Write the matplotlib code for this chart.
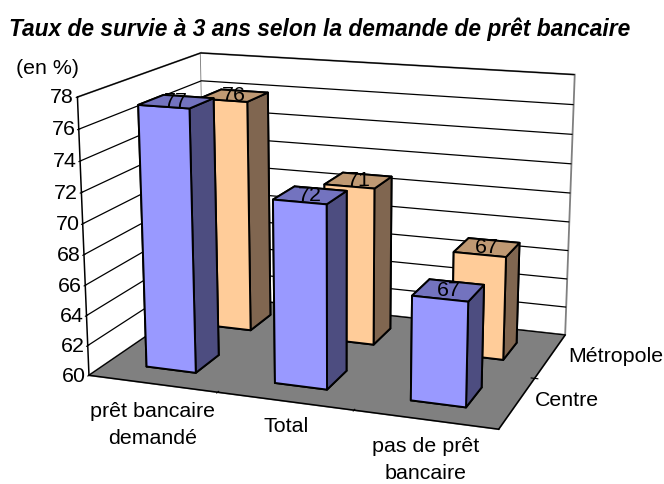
import numpy as np
import matplotlib
matplotlib.use('Agg')
import matplotlib.pyplot as plt

plt.rcParams['font.family'] = ['Liberation Sans', 'DejaVu Sans']

title = 'Taux de survie à 3 ans selon la demande de prêt bancaire'
categories = ['prêt bancaire\ndemandé', 'Total', 'pas de prêt\nbancaire']
series_names = ['Centre', 'Métropole']
centre = [77.2, 71.9, 66.7]
metropole = [76.0, 70.8, 67.0]
z_ticks = list(range(60, 79, 2))

W, H = 664, 484
FS = 15.4
size = 556.3
fig = plt.figure(figsize=(W / 100, H / 100), dpi=100)
ax = fig.add_axes([49.6 / W, -24.5 / H, size / W, size / H], projection='3d')
ax.patch.set_alpha(0)

ax.set_xlim(-0.5, 2.5, view_margin=0)
ax.set_ylim(-0.5, 1.5, view_margin=0)
ax.set_zlim(60, 78, view_margin=0)
ax.view_init(14.888, -70.07, 0.046)
ax.set_proj_type('persp', focal_length=0.549)
ax.set_box_aspect((1, 0.675, 0.670))
ax.computed_zorder = False

# walls and floor
for axis, col in ((ax.xaxis, 'white'), (ax.yaxis, 'white'), (ax.zaxis, '#808080')):
    axis.set_pane_color(col)
    axis.pane.set_edgecolor('#808080')
    axis.pane.set_linewidth(1.3)
    axis.line.set_color('black')
    axis.line.set_linewidth(1.1)

ax.set_xticks([0.5, 1.5])
ax.set_xticklabels([])
ax.set_yticks([0.5])
ax.set_yticklabels([])
ax.set_zticks(z_ticks)
ax.set_zticklabels([str(z) for z in z_ticks], fontsize=FS, va='center')
ax.zaxis.set_ticks_position('lower')
ax.tick_params(axis='z', pad=-2)
ax.grid(True)
ax.xaxis._axinfo['grid']['color'] = (0, 0, 0, 0)
ax.yaxis._axinfo['grid']['color'] = (0, 0, 0, 0)
ax.zaxis._axinfo['grid'].update(color='black', linewidth=0.9)
for axis in (ax.xaxis, ax.yaxis, ax.zaxis):
    axis._axinfo['tick'].update(inward_factor=0.1, outward_factor=0.1)
    axis._axinfo['tick']['linewidth'] = {True: 0.8, False: 0.8}

bar_w = 0.39
bar_d = 0.40
blue = ['#9999FF', '#7373BF', '#9999FF', '#9999FF', '#4D4D80', '#4D4D80']
orange = ['#FFCC99', '#BF9973', '#FFCC99', '#FFCC99', '#806650', '#806650']

# back row first, then front row
z = 10
for row, vals, cols in ((1, metropole, orange), (0, centre, blue)):
    for i in range(len(vals)):
        ax.bar3d(i - bar_w / 2, row - bar_d / 2, 60, bar_w, bar_d, vals[i] - 60,
                 color=cols, shade=False, edgecolor='black', linewidth=1.4, zorder=z)
        ax.text(i, row, vals[i], '%.0f' % vals[i], ha='center', va='center',
                fontsize=FS, zorder=100)
        z += 1


def px_text(x, y, s, **kw):
    fig.text(x / W, 1 - y / H, s, **kw)


px_text(320, 29, title, fontsize=16.4, fontweight='bold', fontstyle='italic',
        ha='center', va='center')
px_text(48, 68, '(en %)', fontsize=FS, ha='center', va='center')
for (x, y), lab in zip([(153, 425), (286, 427), (426, 460)], categories):
    px_text(x, y, lab, fontsize=FS, ha='center', va='center', linespacing=1.5, multialignment='center')
for (x, y), lab in zip([(535, 401), (568, 356)], series_names):
    px_text(x, y, lab, fontsize=FS, ha='left', va='center')

fig.savefig('out.png', dpi=100)
